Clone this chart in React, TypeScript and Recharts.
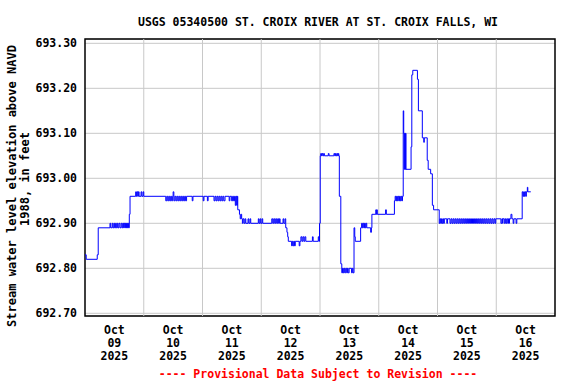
import React from "react";
import {
  LineChart,
  Line,
  XAxis,
  YAxis,
  CartesianGrid,
  ReferenceLine,
  ReferenceArea,
} from "recharts";

// hours since Oct 09 2025 00:00, gage height (ft NAVD88)
const readings: [number, number][] = [
  [0, 692.83], [0.5, 692.82], [5.0, 692.83], [5.4, 692.89],
  [10.2, 692.9], [10.5, 692.89], [11.1, 692.9], [11.4, 692.89], [11.8, 692.9], [12.1, 692.89],
  [12.5, 692.9], [12.8, 692.89], [13.2, 692.9], [13.5, 692.89], [13.9, 692.9], [14.3, 692.89],
  [14.8, 692.9], [15.2, 692.89], [15.5, 692.9], [15.8, 692.89], [16.0, 692.9], [16.3, 692.89],
  [16.5, 692.9], [16.8, 692.89], [17.0, 692.9], [17.3, 692.89], [17.5, 692.9], [17.8, 692.89],
  [18.1, 692.92], [18.4, 692.96],
  [20.7, 692.97], [21.0, 692.96], [21.3, 692.97], [21.6, 692.96], [21.8, 692.97], [22.1, 692.96],
  [22.9, 692.97], [23.2, 692.96], [23.7, 692.97], [24.0, 692.96],
  [33.0, 692.95], [33.4, 692.96], [33.8, 692.95], [34.2, 692.96], [34.6, 692.95], [35.0, 692.96],
  [35.4, 692.95], [35.8, 692.96], [36.0, 692.97], [36.3, 692.95], [36.7, 692.96], [37.1, 692.95],
  [37.5, 692.96], [37.9, 692.95], [38.3, 692.96], [38.7, 692.95], [39.1, 692.96], [39.5, 692.95],
  [39.9, 692.96], [40.3, 692.95], [40.7, 692.96], [41.1, 692.95], [41.5, 692.96],
  [43.8, 692.95], [44.1, 692.96], [48.3, 692.95], [48.6, 692.96], [50.0, 692.95], [50.3, 692.96],
  [52.7, 692.95], [53.1, 692.96], [53.5, 692.95], [53.9, 692.96], [54.3, 692.95], [54.7, 692.96],
  [55.1, 692.95], [55.5, 692.96], [55.9, 692.95], [56.3, 692.96], [56.7, 692.95], [57.2, 692.96],
  [58.9, 692.95], [59.2, 692.96], [59.9, 692.95], [60.3, 692.96], [60.7, 692.95], [61.1, 692.96],
  [61.4, 692.94], [61.7, 692.96], [62.0, 692.94], [62.2, 692.96],
  [62.4, 692.93], [63.1, 692.92], [63.4, 692.91], [63.7, 692.92], [64.0, 692.91],
  [64.3, 692.9], [64.6, 692.91], [65.0, 692.9], [65.4, 692.91], [65.7, 692.9], [66.6, 692.91],
  [66.9, 692.9], [67.4, 692.91], [67.7, 692.9], [70.8, 692.91], [71.1, 692.9], [71.5, 692.91],
  [71.8, 692.9], [72.3, 692.91], [72.6, 692.9],
  [76.3, 692.91], [76.7, 692.9], [77.1, 692.91], [77.5, 692.9], [77.9, 692.91], [78.3, 692.9],
  [78.7, 692.91], [79.1, 692.9], [79.4, 692.91], [79.7, 692.9],
  [80.9, 692.91], [81.2, 692.9], [81.7, 692.91],
  [82.0, 692.89], [82.5, 692.88], [82.8, 692.87], [83.05, 692.86],
  [84.4, 692.85], [84.7, 692.86], [85.0, 692.85], [85.3, 692.86], [85.6, 692.85], [85.9, 692.86],
  [87.5, 692.85], [87.8, 692.86],
  [88.2, 692.87], [88.6, 692.86], [89.0, 692.87], [89.4, 692.86], [89.8, 692.87], [90.2, 692.86],
  [92.9, 692.87], [93.2, 692.86], [95.3, 692.87], [95.6, 692.86],
  [95.8, 692.9], [96.1, 693.05],
  [96.3, 693.055], [96.6, 693.05], [96.9, 693.055], [97.2, 693.05], [97.5, 693.055], [97.8, 693.05],
  [99.4, 693.055], [99.7, 693.05],
  [101.7, 693.055], [102.0, 693.05], [102.3, 693.055], [102.6, 693.05], [102.9, 693.055],
  [103.2, 693.05], [103.5, 693.055], [103.7, 693.05],
  [103.9, 692.96], [104.5, 692.81],
  [104.9, 692.79], [105.2, 692.8], [105.5, 692.79], [105.8, 692.8], [106.1, 692.79], [106.5, 692.8],
  [106.9, 692.79], [107.2, 692.8], [107.5, 692.79], [107.9, 692.8], [108.9, 692.79], [109.2, 692.8],
  [109.5, 692.79],
  [109.9, 692.89], [110.2, 692.87], [110.4, 692.86],
  [112.6, 692.89], [113.0, 692.9], [113.3, 692.89], [113.6, 692.9], [113.9, 692.89], [114.2, 692.9],
  [114.5, 692.89], [114.8, 692.9], [115.1, 692.89],
  [116.7, 692.88], [117.0, 692.89],
  [117.2, 692.92], [118.8, 692.93], [119.0, 692.92], [119.2, 692.93], [119.4, 692.92],
  [122.8, 692.93], [123.1, 692.92],
  [126.4, 692.95], [126.7, 692.96], [127.0, 692.95], [127.3, 692.96], [127.6, 692.95], [127.9, 692.96],
  [128.2, 692.95], [128.5, 692.96], [128.8, 692.95], [129.1, 692.96], [129.4, 692.95], [129.7, 692.96],
  [130.0, 693.15], [130.2, 693.1], [130.4, 693.02], [130.6, 693.1], [130.8, 693.02], [131.0, 693.1],
  [131.1, 693.02],
  [133.2, 693.07], [133.5, 693.23], [133.9, 693.24], [135.8, 693.22], [136.2, 693.15],
  [137.8, 693.09], [138.4, 693.08], [138.6, 693.09], [139.8, 693.04], [140.2, 693.02],
  [141.2, 693.01], [141.9, 692.94], [142.4, 692.93],
  [144.7, 692.9], [145.0, 692.91], [145.3, 692.9], [145.6, 692.91], [145.9, 692.9], [146.2, 692.91],
  [146.5, 692.9], [146.8, 692.91], [147.8, 692.9], [148.1, 692.91],
  [149.1, 692.9], [149.5, 692.91], [149.9, 692.9], [150.3, 692.91], [150.7, 692.9], [151.1, 692.91],
  [151.5, 692.9], [151.9, 692.91], [152.3, 692.9], [152.7, 692.91], [153.1, 692.9], [153.5, 692.91],
  [153.9, 692.9], [154.3, 692.91], [154.7, 692.9], [155.1, 692.91], [155.5, 692.9], [155.9, 692.91],
  [156.3, 692.9], [156.7, 692.91], [157.1, 692.9], [157.5, 692.91], [157.9, 692.9], [158.3, 692.91],
  [158.7, 692.9], [159.1, 692.91], [159.5, 692.9], [159.9, 692.91], [160.3, 692.9], [160.7, 692.91],
  [161.1, 692.9], [161.5, 692.91], [161.9, 692.9], [162.3, 692.91], [162.7, 692.9], [163.1, 692.91],
  [163.5, 692.9], [163.9, 692.91], [164.3, 692.9], [164.7, 692.91], [165.1, 692.9], [165.5, 692.91],
  [165.9, 692.9], [166.3, 692.91], [166.7, 692.9], [167.1, 692.91], [167.5, 692.9], [167.8, 692.91],
  [169.9, 692.9], [170.3, 692.91], [170.6, 692.9], [170.7, 692.91],
  [171.3, 692.9], [171.7, 692.91], [172.0, 692.9], [172.3, 692.91],
  [172.7, 692.9], [173.0, 692.91], [173.3, 692.9], [173.4, 692.91],
  [174.0, 692.92], [174.4, 692.91], [174.9, 692.9], [175.2, 692.91], [176.1, 692.9], [176.4, 692.91],
  [178.6, 692.97], [178.9, 692.96], [179.2, 692.97], [179.5, 692.96], [179.8, 692.97], [180.1, 692.96],
  [180.3, 692.97], [180.7, 692.98], [180.9, 692.97], [182.1, 692.97],
];

const dayTicks = [12, 36, 60, 84, 108, 132, 156, 180];
const dayLabels = ["09", "10", "11", "12", "13", "14", "15", "16"];
const midnights = [24, 48, 72, 96, 120, 144, 168];
const yTicks = [692.7, 692.8, 692.9, 693.0, 693.1, 693.2, 693.3];
const yDomain: [number, number] = [692.694, 693.3096];
const xDomain: [number, number] = [0, 192];

const data = readings.map(([h, v]) => ({ h, v }));

const FONT = "'DejaVu Sans Mono', monospace";

const DateTick = (props: any) => {
  const { x, y, payload } = props;
  const i = dayTicks.indexOf(payload.value);
  return (
    <text
      x={x}
      y={y}
      textAnchor="middle"
      fontFamily={FONT}
      fontWeight="bold"
      fontSize={11.5}
      fill="#000"
    >
      <tspan x={x} dy={10.3}>Oct</tspan>
      <tspan x={x} dy={12.8}>{dayLabels[i]}</tspan>
      <tspan x={x} dy={12.8}>2025</tspan>
    </text>
  );
};

export default function App() {
  return (
    <div style={{ position: "absolute", left: 0, top: 0, width: 576, height: 384, background: "#fff" }}>
      <LineChart
        width={576}
        height={384}
        data={data}
        margin={{ top: 39, right: 21, bottom: 0, left: 0 }}
      >
        <CartesianGrid vertical={false} stroke="#c8c8c8" strokeWidth={1} />
        {midnights.map((m) => (
          <ReferenceLine key={m} x={m} stroke="#c8c8c8" strokeWidth={1} />
        ))}
        <XAxis
          dataKey="h"
          type="number"
          domain={xDomain}
          ticks={dayTicks}
          tick={<DateTick />}
          axisLine={false}
          tickLine={false}
          height={68}
          interval={0}
        />
        <YAxis
          type="number"
          domain={yDomain}
          ticks={yTicks}
          tickFormatter={(v: number) => v.toFixed(2)}
          axisLine={false}
          tickLine={false}
          width={85}
          interval={0}
          tick={{ fontFamily: FONT, fontWeight: "bold", fontSize: 11.5, fill: "#000" }}
        />
        <Line
          dataKey="v"
          type="stepAfter"
          stroke="#0000ff"
          strokeWidth={1}
          dot={false}
          isAnimationActive={false}
        />
        <ReferenceArea
          x1={xDomain[0]}
          x2={xDomain[1]}
          y1={yDomain[0]}
          y2={yDomain[1]}
          fill="none"
          stroke="#000"
          strokeWidth={1.5}
        />
      </LineChart>
      <svg
        width={576}
        height={384}
        style={{ position: "absolute", left: 0, top: 0, pointerEvents: "none" }}
      >
        <text x={318} y={25.7} textAnchor="middle" fontFamily={FONT} fontWeight="bold" fontSize={11.5} fill="#000">
          USGS 05340500 ST. CROIX RIVER AT ST. CROIX FALLS, WI
        </text>
        <text
          transform="translate(15.7,186) rotate(-90)"
          textAnchor="middle"
          fontFamily={FONT}
          fontWeight="bold"
          fontSize={12}
          fill="#000"
        >
          Stream water level elevation above NAVD
        </text>
        <text
          transform="translate(29.3,179) rotate(-90)"
          textAnchor="middle"
          fontFamily={FONT}
          fontWeight="bold"
          fontSize={12}
          fill="#000"
        >
          1988, in feet
        </text>
        <text x={318} y={378} textAnchor="middle" fontFamily={FONT} fontWeight="bold" fontSize={11.5} fill="#ff0000">
          ---- Provisional Data Subject to Revision ----
        </text>
      </svg>
    </div>
  );
}
